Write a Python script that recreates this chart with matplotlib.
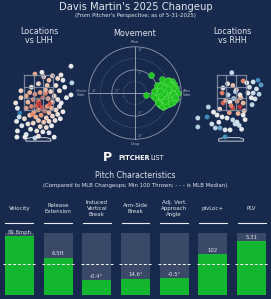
import matplotlib
matplotlib.use('Agg')
import matplotlib.pyplot as plt
from matplotlib.patches import Circle, Polygon
from matplotlib.colors import Normalize

# ---------------- data ----------------
title = "Davis Martin's 2025 Changeup"
subtitle = "(From Pitcher's Perspective; as of 5-31-2025)"

# movement (horizontal break, induced vertical break; inches)
mov_hb = [8.2, 5.7, 14.6, 22.4, 21.5, 20.1, 19.3, 18.2, 17.0, 16.1,
          15.2, 14.3, 13.4, 12.5, 11.6, 10.8, 10.0, 9.3, 12.0, 13.1,
          14.0, 15.0, 16.0, 17.1, 18.0, 19.0, 20.0, 21.0, 11.2, 12.3,
          13.5, 14.7, 15.8, 16.9, 18.1, 19.2, 20.4, 21.3, 10.5, 11.8,
          13.0, 14.2, 15.4, 16.5, 17.6, 18.7, 19.8, 12.6, 13.8, 15.1,
          16.3, 17.4, 18.5, 19.6, 14.4, 15.6, 16.7, 17.8, 13.3, 11.4,
          12.8, 14.9, 16.2, 17.3, 18.4, 15.3, 16.6, 14.1, 13.6, 17.7,
          19.5, 20.7, 15.9, 12.1, 16.8, 18.9, 14.8, 13.2, 17.2, 15.5]
mov_ivb = [9.5, -1.0, -7.3, 0.0, 2.5, 4.8, 6.1, 5.2, 6.8, 4.3,
           3.1, 2.0, 4.6, 1.5, 0.2, -0.5, 1.2, -1.8, -2.6, -3.4,
           -4.2, -5.5, -6.4, -5.0, -3.8, -2.1, -0.8, 1.6, 3.3, 2.7,
           0.8, -1.2, 0.9, 2.2, 3.0, 1.1, -1.5, -3.0, -2.4, -4.6,
           -6.0, -6.8, -4.4, -2.8, -1.0, 0.5, 2.9, -0.3, 1.9, 5.4,
           3.8, 5.9, 3.9, -4.8, -3.0, -1.7, 0.4, -5.6, 0.1, 4.0,
           3.7, 0.6, -2.9, 1.3, -3.5, 2.6, -4.9, 7.1, -1.4, 4.7,
           -0.6, -2.2, -6.1, -5.2, 6.3, -5.4, -0.2, 1.0, 2.3, -3.9]

# locations vs LHH (plate_x ft, plate_z ft, colour value)
lhh_x = [1.86, 1.29, 1.91, 1.86, 1.40, 1.10, 1.50, 1.20, 1.60, 1.00,
         -0.20, 0.30, 0.60, 0.00, 0.50, -0.40, 0.80, 0.20,
         -0.50, -0.20, 0.10, 0.40, 0.70, -0.70, 0.90, 0.25, -0.30, 0.55, 0.00, -0.60, 0.80, 1.10,
         -0.40, -0.10, 0.20, 0.50, 0.75, -0.70, 0.00, 0.35, -0.25, 0.60, 1.00, 1.20,
         -0.50, -0.15, 0.15, 0.45, 0.80, 1.10, -0.80, 0.00, 0.30, 0.60, 0.95, -0.30, -0.60, 0.10,
         0.45, 0.75, -0.10, 0.25, -0.45, 0.60,
         -1.06, -1.20, -1.30, -1.00, -1.10, -1.25, -0.95, -1.20, -1.00,
         -1.23, -0.77, -0.20, 0.00, 0.90, -0.70,
         1.30, 1.40, 1.25, 0.05, 0.65, -0.35, 0.40]
lhh_z = [4.00, 3.50, 3.05, 2.36, 3.20, 3.30, 2.80, 2.60, 2.20, 2.90,
         3.55, 3.40, 3.20, 3.00, 2.90, 2.80, 3.45, 3.65,
         2.50, 2.40, 2.50, 2.45, 2.55, 2.30, 2.30, 2.20, 2.10, 2.15, 2.00, 1.95, 1.95, 2.10,
         1.70, 1.75, 1.65, 1.70, 1.60, 1.60, 1.50, 1.45, 1.40, 1.35, 1.50, 1.70,
         1.20, 1.10, 1.20, 1.05, 1.15, 1.25, 1.00, 0.90, 0.80, 0.85, 0.90, 0.75, 0.70, 0.55,
         0.50, 0.60, 0.30, 0.25, 0.40, 0.20,
         1.33, 1.60, 1.90, 2.20, 1.10, 0.85, 0.60, 0.30, 2.60,
         -0.05, -0.05, -0.10, 0.00, -0.05, 0.10,
         1.90, 1.40, 1.00, 1.85, 1.85, 1.25, 2.65]
lhh_c = [0.00, 0.10, -0.35, 0.00, 0.05, 0.20, 0.00, 0.10, -0.05, 0.15,
         0.50, 0.30, 0.40, 0.20, 0.35, 0.10, 0.25, 0.00,
         0.45, 0.60, 0.55, 0.70, 0.30, 0.50, 0.20, 0.80, 0.65, 0.50, 0.75, 0.40, 0.35, 0.10,
         0.70, 0.85, 0.90, 0.60, 0.45, 0.55, 0.60, 0.75, 0.50, 0.40, 0.20, 0.05,
         0.35, 0.45, 0.60, 0.30, 0.25, 0.10, 0.20, 0.30, 0.35, 0.20, 0.10, 0.25, 0.10, 0.20,
         0.15, 0.00, 0.10, 0.05, 0.00, -0.10,
         -0.95, 0.00, 0.15, 0.30, -0.20, 0.00, -0.15, 0.05, 0.25,
         0.00, 0.00, -0.30, 0.10, 0.00, -0.10,
         0.00, 0.05, 0.00, 1.00, 0.85, 0.65, 0.40]

# locations vs RHH
rhh_x = [0.04, 1.54, 1.71, 1.26, 0.69, 0.10, -0.51, -0.46, -0.17, 0.51,
         0.97, 1.26, 1.37, 1.20, -0.46, 0.10, 0.50, -0.06, 0.69, -1.00,
         -0.80, -0.51, -0.23, 0.10, 0.34, 0.69, -1.30, -1.37, -1.90, -1.90,
         -0.90, -0.63, -0.34, -0.06, 0.23, 0.46, -0.34, 0.80, 1.05, 0.30,
         -0.20, 0.55, -0.65, 0.15, 0.90, 1.45, -0.10, 0.40, -0.70, 0.75,
         0.25, -0.30, 1.15, 0.60, -1.10, 0.00, 0.35, 1.60]
rhh_z = [3.63, 3.20, 2.93, 3.10, 3.16, 2.90, 2.47, 2.76, 2.36, 2.36,
         2.47, 2.47, 2.13, 1.80, 1.90, 1.60, 1.67, 1.95, 1.90, 1.38,
         1.21, 1.10, 1.04, 0.93, 0.81, 1.21, 1.67, 1.10, 1.04, 0.53,
         0.47, 0.47, 0.36, 0.36, 0.70, 0.62, -0.04, 0.95, 2.80, 2.65,
         3.00, 2.20, 1.55, 2.15, 3.05, 2.70, 1.35, 1.30, 0.80, 1.45,
         2.55, 2.05, 2.20, 0.40, 0.70, 1.75, 2.00, 2.40]
rhh_c = [-0.30, -0.85, -0.75, -0.20, 0.65, 0.40, 0.70, 0.00, -0.30, 0.00,
         0.00, -0.25, -0.15, -0.30, 0.80, 0.90, 1.00, 0.00, 0.40, 0.00,
         0.00, 0.00, 0.00, -0.30, -0.20, 0.00, -0.35, -0.85, -0.30, -0.40,
         -0.35, -0.70, -0.10, -0.05, -0.30, -0.25, -0.80, 0.05, -0.20, 0.30,
         0.10, 0.35, 0.20, -0.40, 0.00, -0.20, 0.55, 0.45, -0.05, 0.30,
         -0.35, 0.50, 0.00, -0.10, -0.20, 0.70, 0.60, -0.35]

# pitch characteristics
metric_labels = ["Velocity", "Release\nExtension", "Induced\nVertical\nBreak",
                 "Arm-Side\nBreak", "Adj. Vert.\nApproach\nAngle", "plvLoc+", "PLV"]
metric_values = ["89.8mph", "6.5ft", "-0.4°", "14.6°", "-0.5°", "102", "5.31"]
metric_pct = [0.95, 0.60, 0.24, 0.26, 0.27, 0.66, 0.87]
mlb_median_pct = 0.5

# ---------------- styling ----------------
W, H = 271, 299
BG = '#172a4d'
TXT = '#dfe3ea'
GRID = '#8a93a8'
GREEN = '#13b72f'
BARBG = '#3a4968'

fig = plt.figure(figsize=(W / 100, H / 100), dpi=100, facecolor=BG)


def axpx(x0, y0, x1, y1):
    ax = fig.add_axes([x0 / W, 1 - y1 / H, (x1 - x0) / W, (y1 - y0) / H])
    ax.set_facecolor('none')
    ax.axis('off')
    return ax


def ftext(x, y, s, **kw):
    kw.setdefault('color', TXT)
    kw.setdefault('ha', 'center')
    kw.setdefault('va', 'center')
    fig.text(x / W, 1 - y / H, s, **kw)


ftext(135.5, 7, title, fontsize=7.2)
ftext(135.5, 16, subtitle, fontsize=3.9)
ftext(39, 36, "Locations\nvs LHH", fontsize=5.8, linespacing=1.05)
ftext(135, 33, "Movement", fontsize=5.8)
ftext(232, 36, "Locations\nvs RHH", fontsize=5.8, linespacing=1.05)

# ---------------- location plots ----------------
norm = Normalize(vmin=-1.4, vmax=1.4)
cmap = plt.get_cmap('RdBu_r')


def loc_plot(ax, xs, zs, cs):
    ax.scatter(xs, zs, c=cs, cmap=cmap, norm=norm, s=12, linewidths=0, alpha=0.95, zorder=2)
    zl, zr, zb, zt = -0.83, 0.83, 1.5, 3.5
    for i in range(4):
        xv = zl + i * (zr - zl) / 3
        ax.plot([xv, xv], [zb, zt], color=GRID, lw=0.9, alpha=0.85, zorder=3)
        zv = zb + i * (zt - zb) / 3
        ax.plot([zl, zr], [zv, zv], color=GRID, lw=0.9, alpha=0.85, zorder=3)
    plate = Polygon([(-0.71, -0.28), (0.71, -0.28), (0.71, -0.16), (0.45, -0.08),
                     (-0.45, -0.08), (-0.71, -0.16)], closed=True, fill=False,
                    edgecolor='#c9cdd6', lw=0.7, zorder=1)
    ax.add_patch(plate)
    ax.set_aspect('equal')


axL = axpx(5, 45, 85, 148)
axL.set_xlim(-1.91, 2.66)
axL.set_ylim(-0.67, 5.21)
loc_plot(axL, lhh_x, lhh_z, lhh_c)

axR = axpx(188, 45, 268, 148)
axR.set_xlim(-2.46, 2.11)
axR.set_ylim(-0.67, 5.21)
loc_plot(axR, rhh_x, rhh_z, rhh_c)

# ---------------- movement plot ----------------
axM = axpx(83, 41, 187, 145)
axM.set_xlim(-27, 27)
axM.set_ylim(-27, 27)
axM.set_aspect('equal')
for r, ls, a in [(6, ':', 0.5), (12, '-', 0.7), (18, ':', 0.5), (24, '-', 0.75)]:
    axM.add_patch(Circle((0, 0), r, fill=False, edgecolor='#b8bfcc', lw=0.6, ls=ls, alpha=a))
axM.plot([-24, 24], [0, 0], color='#c4c9d3', lw=0.6, alpha=0.8)
axM.plot([0, 0], [-24, 24], color='#c4c9d3', lw=0.6, alpha=0.8)
for r in (12, 24):
    axM.text(1.3, r - 1.5, f'{r}"', fontsize=2.3, color='#7d879b', ha='left', va='center')
    axM.text(1.3, -r + 1.5, f'{r}"', fontsize=2.3, color='#7d879b', ha='left', va='center')
    axM.text(-r + 1.5, 1.2, f'{r}"', fontsize=2.3, color='#7d879b', ha='left', va='center')
axM.scatter(mov_hb, mov_ivb, s=18, facecolor='#1fc21f', edgecolor='#6be36b', linewidths=0.3,
            zorder=3)
axM.text(0, 26.4, "Rise", fontsize=2.8, color='#aab2c2', ha='center', va='center', clip_on=False)
axM.text(0, -26.4, "Drop", fontsize=2.8, color='#aab2c2', ha='center', va='center', clip_on=False)
axM.text(-27.8, 0, "Glove\nSide", fontsize=2.8, color='#aab2c2', ha='center', va='center',
         linespacing=1.0, clip_on=False)
axM.text(27.0, 0, "Arm\nSide", fontsize=2.8, color='#aab2c2', ha='center', va='center',
         linespacing=1.0, clip_on=False)

# ---------------- logo ----------------
ftext(107.5, 157.5, "P", fontsize=9, fontweight='bold', color='white')
ftext(118, 158, "PITCHER", fontsize=4.7, fontweight='bold', color='white', ha='left')
ftext(150.5, 158, "LIST", fontsize=4.7, color='#e8ebf0', ha='left')

ftext(135.5, 176, "Pitch Characteristics", fontsize=5.6)
ftext(135.5, 186, "(Compared to MLB Changeups; Min 100 Thrown; - - - is MLB Median)", fontsize=3.9)

# ---------------- bars ----------------
axB = axpx(0, 233, 271, 295)
n = len(metric_labels)
axB.set_xlim(-0.5, n - 0.5)
axB.set_ylim(0, 1)
xs = list(range(n))
bw = 0.75
axB.bar(xs, [1] * n, width=bw, color=BARBG, zorder=1)
axB.bar(xs, metric_pct, width=bw, color=GREEN, zorder=2)
for i in xs:
    axB.plot([i - 0.42, i + 0.42], [mlb_median_pct] * 2, color='white', lw=0.7,
             ls=(0, (3, 2)), zorder=3)
    axB.text(i, metric_pct[i] + 0.065, metric_values[i], fontsize=3.9, color=TXT,
             ha='center', va='center', zorder=4, clip_on=False)
    axB.text(i, 1.40, metric_labels[i], fontsize=4.0, color=TXT, ha='center', va='center',
             linespacing=1.25, clip_on=False)
    axB.plot([i - 0.36, i + 0.36], [1.16, 1.16], color='#e8ebf0', lw=0.8, clip_on=False)

fig.savefig('out.png', dpi=100, facecolor=BG)
